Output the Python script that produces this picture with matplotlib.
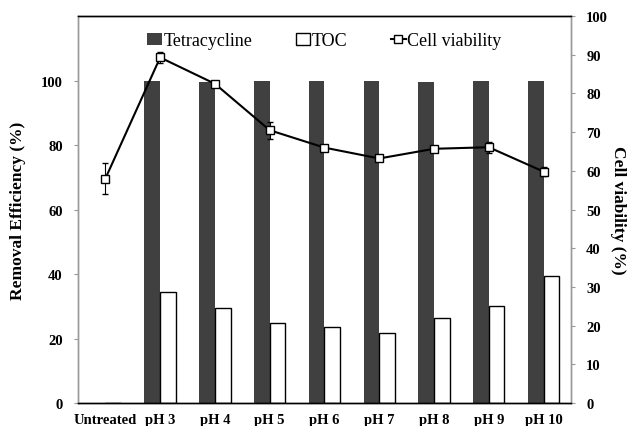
import matplotlib
matplotlib.use("Agg")
import matplotlib.pyplot as plt
from matplotlib.lines import Line2D
import numpy as np

categories = ["Untreated", "pH 3", "pH 4", "pH 5", "pH 6", "pH 7", "pH 8", "pH 9", "pH 10"]
tetracycline = [0, 99.8, 99.4, 100, 100, 100, 99.7, 100, 100]
toc = [0, 34.5, 29.5, 24.7, 23.7, 21.8, 26.5, 30.2, 39.3]
cell_viability = [58.0, 89.3, 82.5, 70.5, 66.0, 63.2, 65.7, 66.1, 59.8]
cell_err = [3.9, 1.5, 0.5, 2.2, 0.5, 0.5, 0.5, 1.4, 1.2]

plt.rcParams['font.family'] = ['Liberation Serif', 'DejaVu Serif']

fig = plt.figure(figsize=(6.3, 4.27), dpi=100)
ax = fig.add_axes([0.1238, 0.0539, 0.7825, 0.9061])
ax2 = ax.twinx()

x = np.arange(len(categories))
w = 0.286
b1 = ax.bar(x - w/2, tetracycline, w, color='#404040', edgecolor='none', label='Tetracycline', zorder=2)
b2 = ax.bar(x + w/2, toc, w, color='white', edgecolor='black', linewidth=1.0, label='TOC', zorder=2)

ax2.errorbar(x, cell_viability, yerr=cell_err, color='black', lw=1.5, marker='s', ms=6,
             mfc='white', mec='black', mew=1.0, capsize=2, elinewidth=0.8, capthick=0.8,
             zorder=3)
line_handle = Line2D([], [], color='black', lw=1.5, marker='s', ms=6, mfc='white',
                     mec='black', mew=1.0)

ax.set_xlim(-0.5, len(categories) - 0.5)
ax.set_ylim(0, 120)
ax.set_yticks(np.arange(0, 101, 20))
ax2.set_ylim(0, 100)
ax2.set_yticks(np.arange(0, 101, 10))

ax.set_xticks(x)
ax.set_xticklabels(categories, fontsize=10.5, fontweight='bold')
ax.tick_params(axis='x', length=0, pad=7)
ax.tick_params(axis='y', length=3, color='#999999', labelsize=10.5, pad=8)
ax2.tick_params(axis='y', length=3, color='#999999', labelsize=10.5, pad=8)
for t in ax.get_yticklabels() + ax2.get_yticklabels():
    t.set_fontweight('bold')

for a in (ax, ax2):
    a.spines['left'].set_color('#999999')
    a.spines['right'].set_color('#999999')
    a.spines['top'].set_color('black')
    a.spines['bottom'].set_color('black')
    for s in a.spines.values():
        s.set_linewidth(1.0)

ax.set_ylabel('Removal Efficiency (%)', fontsize=12.5, fontweight='bold', va='center')
ax.yaxis.set_label_coords(-0.122, 0.5)
ax2.set_ylabel('Cell viability (%)', fontsize=12.5, fontweight='bold', rotation=270, va='center')
ax2.yaxis.set_label_coords(1.095, 0.5)

ax.legend([b1, b2, line_handle], ['Tetracycline', 'TOC', 'Cell viability'],
          loc='upper center', bbox_to_anchor=(0.5, 1.0), ncol=3,
          frameon=False, fontsize=13, handlelength=0.8, handletextpad=0.1, columnspacing=2.4,
          handleheight=0.65)

fig.savefig('out.png', dpi=100)
